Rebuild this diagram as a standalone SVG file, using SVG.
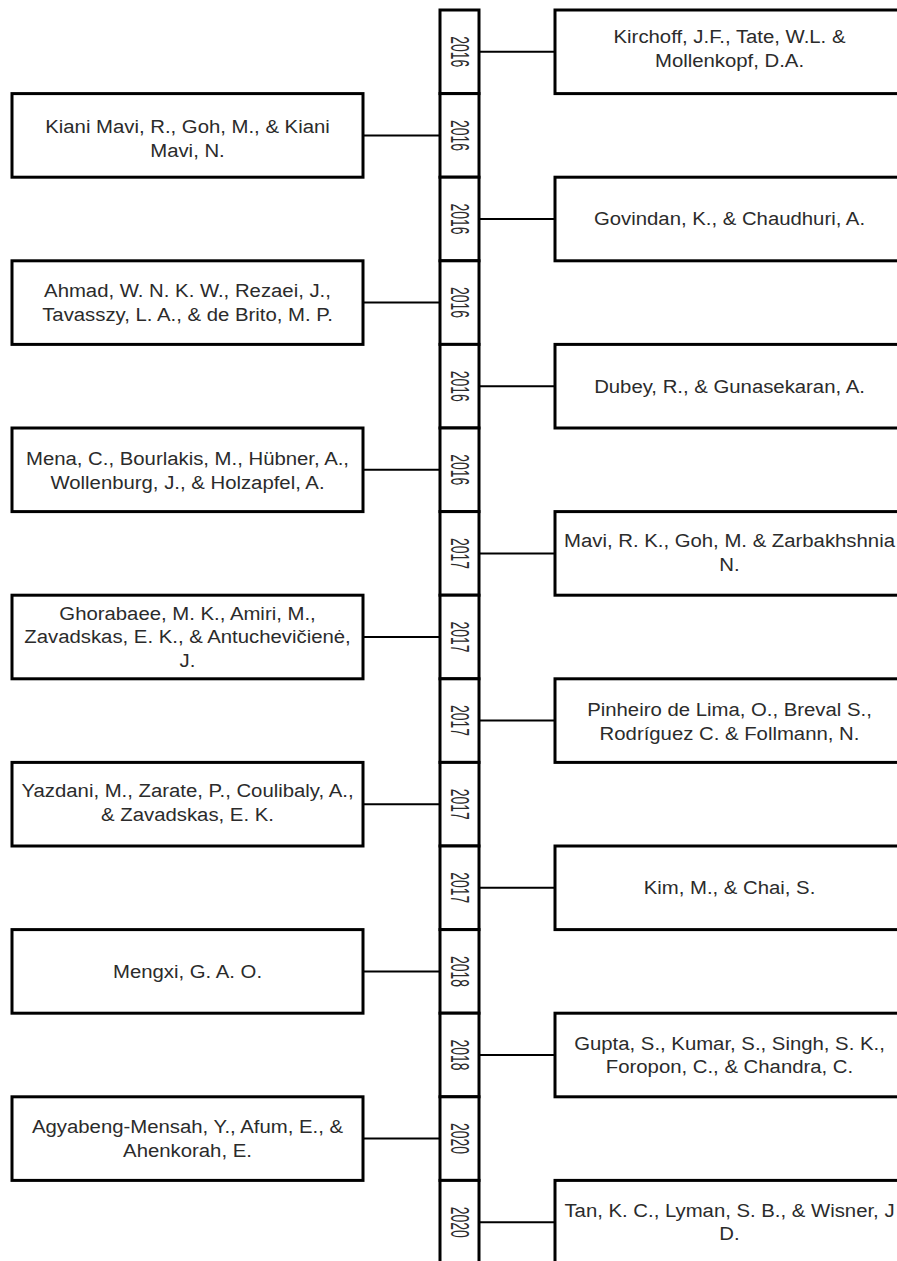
<svg xmlns="http://www.w3.org/2000/svg" width="897" height="1261" viewBox="0 0 897 1261">
<style>
.box{fill:#fff;stroke:#000;stroke-width:3}
.cell{fill:#fff;stroke:#000;stroke-width:3}
.conn{stroke:#000;stroke-width:2;fill:none}
.t{font-family:"Liberation Sans",Arial,sans-serif;font-size:18px;fill:#2b2b2b;text-anchor:middle}
.yr{font-family:"Liberation Sans",Arial,sans-serif;font-size:25px;fill:#2b2b2b;text-anchor:middle;dominant-baseline:central}
</style>
<rect width="897" height="1261" fill="#fff"/>
<g id="connectors">
<line class="conn" x1="479" y1="51.8" x2="555" y2="51.8"/>
<line class="conn" x1="363" y1="135.4" x2="440" y2="135.4"/>
<line class="conn" x1="479" y1="219" x2="555" y2="219"/>
<line class="conn" x1="363" y1="302.6" x2="440" y2="302.6"/>
<line class="conn" x1="479" y1="386.2" x2="555" y2="386.2"/>
<line class="conn" x1="363" y1="469.8" x2="440" y2="469.8"/>
<line class="conn" x1="479" y1="553.4" x2="555" y2="553.4"/>
<line class="conn" x1="363" y1="637" x2="440" y2="637"/>
<line class="conn" x1="479" y1="720.6" x2="555" y2="720.6"/>
<line class="conn" x1="363" y1="804.2" x2="440" y2="804.2"/>
<line class="conn" x1="479" y1="887.8" x2="555" y2="887.8"/>
<line class="conn" x1="363" y1="971.4" x2="440" y2="971.4"/>
<line class="conn" x1="479" y1="1055" x2="555" y2="1055"/>
<line class="conn" x1="363" y1="1138.6" x2="440" y2="1138.6"/>
<line class="conn" x1="479" y1="1222.2" x2="555" y2="1222.2"/>
</g>
<g id="timeline">
<g id="year1"><rect class="cell" x="440" y="10" width="39" height="83.6"/><text class="yr" transform="translate(459.5,51.8) rotate(90)" textLength="31" lengthAdjust="spacingAndGlyphs">2016</text></g>
<g id="year2"><rect class="cell" x="440" y="93.6" width="39" height="83.6"/><text class="yr" transform="translate(459.5,135.4) rotate(90)" textLength="31" lengthAdjust="spacingAndGlyphs">2016</text></g>
<g id="year3"><rect class="cell" x="440" y="177.2" width="39" height="83.6"/><text class="yr" transform="translate(459.5,219) rotate(90)" textLength="31" lengthAdjust="spacingAndGlyphs">2016</text></g>
<g id="year4"><rect class="cell" x="440" y="260.8" width="39" height="83.6"/><text class="yr" transform="translate(459.5,302.6) rotate(90)" textLength="31" lengthAdjust="spacingAndGlyphs">2016</text></g>
<g id="year5"><rect class="cell" x="440" y="344.4" width="39" height="83.6"/><text class="yr" transform="translate(459.5,386.2) rotate(90)" textLength="31" lengthAdjust="spacingAndGlyphs">2016</text></g>
<g id="year6"><rect class="cell" x="440" y="428" width="39" height="83.6"/><text class="yr" transform="translate(459.5,469.8) rotate(90)" textLength="31" lengthAdjust="spacingAndGlyphs">2016</text></g>
<g id="year7"><rect class="cell" x="440" y="511.6" width="39" height="83.6"/><text class="yr" transform="translate(459.5,553.4) rotate(90)" textLength="31" lengthAdjust="spacingAndGlyphs">2017</text></g>
<g id="year8"><rect class="cell" x="440" y="595.2" width="39" height="83.6"/><text class="yr" transform="translate(459.5,637) rotate(90)" textLength="31" lengthAdjust="spacingAndGlyphs">2017</text></g>
<g id="year9"><rect class="cell" x="440" y="678.8" width="39" height="83.6"/><text class="yr" transform="translate(459.5,720.6) rotate(90)" textLength="31" lengthAdjust="spacingAndGlyphs">2017</text></g>
<g id="year10"><rect class="cell" x="440" y="762.4" width="39" height="83.6"/><text class="yr" transform="translate(459.5,804.2) rotate(90)" textLength="31" lengthAdjust="spacingAndGlyphs">2017</text></g>
<g id="year11"><rect class="cell" x="440" y="846" width="39" height="83.6"/><text class="yr" transform="translate(459.5,887.8) rotate(90)" textLength="31" lengthAdjust="spacingAndGlyphs">2017</text></g>
<g id="year12"><rect class="cell" x="440" y="929.6" width="39" height="83.6"/><text class="yr" transform="translate(459.5,971.4) rotate(90)" textLength="31" lengthAdjust="spacingAndGlyphs">2018</text></g>
<g id="year13"><rect class="cell" x="440" y="1013.2" width="39" height="83.6"/><text class="yr" transform="translate(459.5,1055) rotate(90)" textLength="31" lengthAdjust="spacingAndGlyphs">2018</text></g>
<g id="year14"><rect class="cell" x="440" y="1096.8" width="39" height="83.6"/><text class="yr" transform="translate(459.5,1138.6) rotate(90)" textLength="31" lengthAdjust="spacingAndGlyphs">2020</text></g>
<g id="year15"><rect class="cell" x="440" y="1180.4" width="39" height="83.6"/><text class="yr" transform="translate(459.5,1222.2) rotate(90)" textLength="31" lengthAdjust="spacingAndGlyphs">2020</text></g>
</g>
<g id="n1"><rect class="box" x="555" y="10" width="349" height="83.6"/><g transform="translate(729.5,0) scale(1.13,1)"><text class="t"><tspan x="0" y="43.5">Kirchoff, J.F., Tate, W.L. &amp;</tspan><tspan x="0" y="67">Mollenkopf, D.A.</tspan></text></g></g>
<g id="n2"><rect class="box" x="12" y="93.6" width="351" height="83.6"/><g transform="translate(187.5,0) scale(1.13,1)"><text class="t"><tspan x="0" y="133.5">Kiani Mavi, R., Goh, M., &amp; Kiani</tspan><tspan x="0" y="157">Mavi, N.</tspan></text></g></g>
<g id="n3"><rect class="box" x="555" y="177.2" width="349" height="83.6"/><g transform="translate(729.5,0) scale(1.13,1)"><text class="t"><tspan x="0" y="225.4">Govindan, K., &amp; Chaudhuri, A.</tspan></text></g></g>
<g id="n4"><rect class="box" x="12" y="260.8" width="351" height="83.6"/><g transform="translate(187.5,0) scale(1.13,1)"><text class="t"><tspan x="0" y="297.3">Ahmad, W. N. K. W., Rezaei, J.,</tspan><tspan x="0" y="320.8">Tavasszy, L. A., &amp; de Brito, M. P.</tspan></text></g></g>
<g id="n5"><rect class="box" x="555" y="344.4" width="349" height="83.6"/><g transform="translate(729.5,0) scale(1.13,1)"><text class="t"><tspan x="0" y="392.6">Dubey, R., &amp; Gunasekaran, A.</tspan></text></g></g>
<g id="n6"><rect class="box" x="12" y="428" width="351" height="83.6"/><g transform="translate(187.5,0) scale(1.13,1)"><text class="t"><tspan x="0" y="465.5">Mena, C., Bourlakis, M., Hübner, A.,</tspan><tspan x="0" y="489">Wollenburg, J., &amp; Holzapfel, A.</tspan></text></g></g>
<g id="n7"><rect class="box" x="555" y="511.6" width="349" height="83.6"/><g transform="translate(729.5,0) scale(1.13,1)"><text class="t"><tspan x="0" y="547.5">Mavi, R. K., Goh, M. &amp; Zarbakhshnia</tspan><tspan x="0" y="571">N.</tspan></text></g></g>
<g id="n8"><rect class="box" x="12" y="595.2" width="351" height="83.6"/><g transform="translate(187.5,0) scale(1.13,1)"><text class="t"><tspan x="0" y="620">Ghorabaee, M. K., Amiri, M.,</tspan><tspan x="0" y="643.5">Zavadskas, E. K., &amp; Antuchevičienė,</tspan><tspan x="0" y="667">J.</tspan></text></g></g>
<g id="n9"><rect class="box" x="555" y="678.8" width="349" height="83.6"/><g transform="translate(729.5,0) scale(1.13,1)"><text class="t"><tspan x="0" y="716.5">Pinheiro de Lima, O., Breval S.,</tspan><tspan x="0" y="740">Rodríguez C. &amp; Follmann, N.</tspan></text></g></g>
<g id="n10"><rect class="box" x="12" y="762.4" width="351" height="83.6"/><g transform="translate(187.5,0) scale(1.13,1)"><text class="t"><tspan x="0" y="797.5">Yazdani, M., Zarate, P., Coulibaly, A.,</tspan><tspan x="0" y="821">&amp; Zavadskas, E. K.</tspan></text></g></g>
<g id="n11"><rect class="box" x="555" y="846" width="349" height="83.6"/><g transform="translate(729.5,0) scale(1.13,1)"><text class="t"><tspan x="0" y="894.2">Kim, M., &amp; Chai, S.</tspan></text></g></g>
<g id="n12"><rect class="box" x="12" y="929.6" width="351" height="83.6"/><g transform="translate(187.5,0) scale(1.13,1)"><text class="t"><tspan x="0" y="977.8">Mengxi, G. A. O.</tspan></text></g></g>
<g id="n13"><rect class="box" x="555" y="1013.2" width="349" height="83.6"/><g transform="translate(729.5,0) scale(1.13,1)"><text class="t"><tspan x="0" y="1049.7">Gupta, S., Kumar, S., Singh, S. K.,</tspan><tspan x="0" y="1073.2">Foropon, C., &amp; Chandra, C.</tspan></text></g></g>
<g id="n14"><rect class="box" x="12" y="1096.8" width="351" height="83.6"/><g transform="translate(187.5,0) scale(1.13,1)"><text class="t"><tspan x="0" y="1133.3">Agyabeng-Mensah, Y., Afum, E., &amp;</tspan><tspan x="0" y="1156.8">Ahenkorah, E.</tspan></text></g></g>
<g id="n15"><rect class="box" x="555" y="1180.4" width="349" height="83.6"/><g transform="translate(729.5,0) scale(1.13,1)"><text class="t"><tspan x="0" y="1216.9">Tan, K. C., Lyman, S. B., &amp; Wisner, J</tspan><tspan x="0" y="1240.4">D.</tspan></text></g></g>
</svg>
